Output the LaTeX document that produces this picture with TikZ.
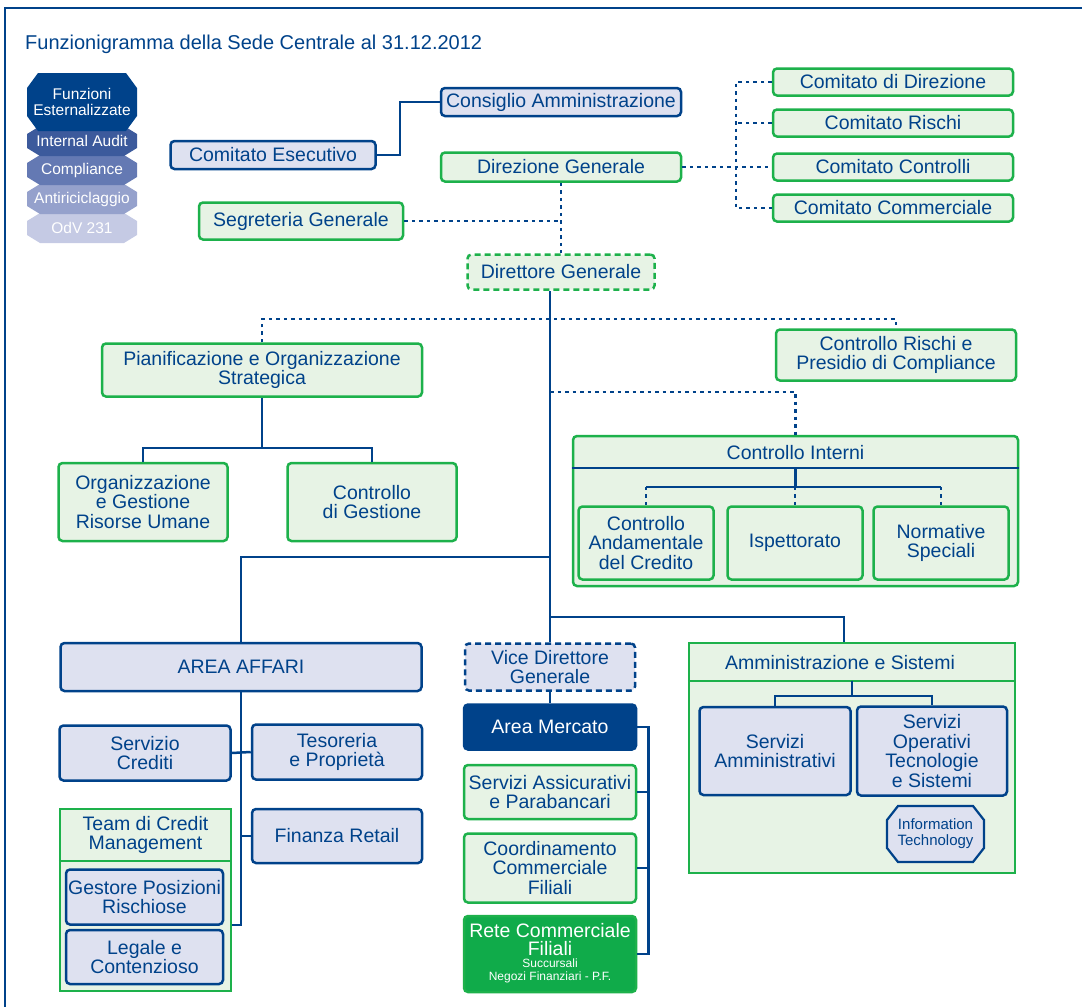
\documentclass[tikz,border=0pt]{standalone}
\usepackage{fontspec}
\setmainfont{Liberation Sans}
\usepackage{xcolor}
\usepackage{tikz}
\definecolor{navy}{HTML}{00428A}
\definecolor{lav}{HTML}{DEE1F0}
\definecolor{grn}{HTML}{1DB14B}
\definecolor{mint}{HTML}{E7F3E5}
\definecolor{rete}{HTML}{10AB4A}
\definecolor{legA}{HTML}{00428A}
\definecolor{legB}{HTML}{3C5A9C}
\definecolor{legC}{HTML}{6479B3}
\definecolor{legD}{HTML}{95A1CC}
\definecolor{legE}{HTML}{C5CAE4}

\begin{document}
\begin{tikzpicture}[x=1pt, y=-1pt,
  txt/.style={text=navy, font=\fontsize{19.5}{19.5}\selectfont, align=center, inner sep=2pt},
  dims/.style 2 args={minimum width=#1, minimum height=#2},
  bluebox/.style={txt, draw=navy, fill=lav, line width=2.5pt, rounded corners=4pt},
  greenbox/.style={txt, draw=grn, fill=mint, line width=2.5pt, rounded corners=4pt},
  panel/.style={draw=grn, fill=mint, line width=2.5pt},
  link/.style={draw=navy, line width=2.5pt},
  dotlink/.style={draw=navy, line width=2.5pt, dash pattern=on 3.5pt off 4pt},
  legtext/.style={text=white, font=\fontsize{15.5}{16}\selectfont, align=center, inner sep=0pt}]
\useasboundingbox (0,0) rectangle (1082,1007);
\draw[navy, line width=2.5pt] (5,1007) -- (5,8) -- (1082,8);

\node[txt, anchor=west, font=\fontsize{20}{20}\selectfont] (title) at (23,44) {Funzionigramma della Sede Centrale al 31.12.2012};

\foreach \lab/\yc/\col [count=\i] in {OdV 231/228/legE,Antiriciclaggio/199/legD,Compliance/170/legC,Internal Audit/141/legB} {
  \fill[\col] (27,\yc-7) -- (40,\yc-15) -- (124,\yc-15) -- (137,\yc-7) -- (137,\yc+7) -- (124,\yc+15) -- (40,\yc+15) -- (27,\yc+7) -- cycle;
  \node[legtext] (leg\i) at (82,\yc) {\lab};
}
\fill[legA] (27,88) -- (38,73) -- (126,73) -- (137,88) -- (137,116) -- (126,131) -- (38,131) -- (27,116) -- cycle;
\node[legtext] (legF) at (82,102) {Funzioni\\Esternalizzate};

\node[bluebox, dims={205}{28}] (ce) at (273,155) {Comitato Esecutivo};
\node[bluebox, dims={240}{28}] (cda) at (561,102) {Consiglio Amministrazione};
\node[greenbox, dims={240}{29}] (dir) at (561,167) {Direzione Generale};
\node[greenbox, dims={204}{37}] (segr) at (301,221) {Segreteria Generale};
\node[greenbox, dims={187}{35}, dash pattern=on 6pt off 4pt] (dg) at (561,272) {Direttore Generale};
\foreach \lab/\yc/\nm in {Comitato di Direzione/82/cdir,Comitato Rischi/123/cris,Comitato Controlli/167/cctr,Comitato Commerciale/208/ccom}
  \node[greenbox, dims={240}{27}] (\nm) at (893,\yc) {\lab};

\draw[link] (ce.east) -- ++(23,0) |- (cda.west);
\draw[dotlink] (dir.east) -- (cctr.west);
\draw[dotlink] (cdir.west) -- ++(-36,0) |- (ccom.west);
\draw[dotlink] (cris.west) -- ++(-36,0);
\draw[dotlink] (dir.south) -- (dg.north);
\draw[dotlink] (segr.east) -- (segr.east -| dir.south);

\node[greenbox, dims={320}{53}] (pian) at (262,370) {Pianificazione e Organizzazione\\Strategica};
\node[greenbox, dims={240}{51}] (crp) at (896,355) {Controllo Rischi e\\Presidio di Compliance};
\node[greenbox, dims={169}{78}] (org) at (143,502) {Organizzazione\\e Gestione\\Risorse Umane};
\node[greenbox, dims={169}{78}] (cdg) at (372,502) {Controllo\\di Gestione};
\draw[link] (pian.south) -- ++(0,50) coordinate (pj);
\draw[link] (org.north) |- (pj) -| (cdg.north);

\node[panel, rounded corners=4pt, dims={445}{150}] (ci) at (795.5,511) {};
\draw[link] ([yshift=-33pt]ci.north west) -- ([yshift=-33pt]ci.north east);
\node[txt] (cit) at (795.5,453) {Controllo Interni};
\node[greenbox, dims={135}{73}] (cand) at (646,543) {Controllo\\Andamentale\\del Credito};
\node[greenbox, dims={135}{73}] (isp) at (795,543) {Ispettorato};
\node[greenbox, dims={135}{73}] (norm) at (941,543) {Normative\\Speciali};
\draw[link] ([yshift=-33pt]ci.north) -- ++(0,19) coordinate (cib);
\draw[link] (cand.north |- cib) -- (norm.north |- cib);
\foreach \n in {cand,isp,norm}
  \draw[dotlink] (\n.north |- cib) -- (\n.north);

\node[bluebox, dims={170}{47}, dash pattern=on 6pt off 4pt] (vdg) at (550,667) {Vice Direttore\\Generale};
\coordinate (j1) at (550,319);
\coordinate (j2) at (550,392);
\coordinate (j3) at (550,557);
\coordinate (j4) at (550,617);
\draw[link] (dg.south -| vdg.north) -- (vdg.north);
\draw[dotlink] (pian.north) |- (j1) -| (crp.north);
\draw[dotlink] (j2) -| (ci.north);

\node[bluebox, dims={361}{48}] (aa) at (241,667) {AREA AFFARI};
\node[bluebox, dims={171}{55}] (sc) at (145,753) {Servizio\\Crediti};
\node[bluebox, dims={170}{55}] (tes) at (337,752) {Tesoreria\\e Proprietà};
\node[bluebox, dims={170}{54}] (fin) at (337,836) {Finanza Retail};
\node[panel, dims={171}{182}] (team) at (145.5,900) {};
\draw[draw=grn, line width=2.5pt] ([yshift=-53pt]team.north west) -- ([yshift=-53pt]team.north east);
\node[txt] (teamt) at (145.5,835) {Team di Credit\\Management};
\node[bluebox, dims={157}{55}] (gpr) at (144.5,897) {Gestore Posizioni\\Rischiose};
\node[bluebox, dims={157}{54}] (leg) at (144.5,957) {Legale e\\Contenzioso};
\draw[link] (j3) -| (aa.north);
\draw[link] (aa.south) |- ([yshift=-25pt]team.east);
\draw[link] (sc.east) -- (tes.west);
\draw[link] (fin.west) -- (fin.west -| aa.south);

\node[bluebox, fill=navy, text=white, dims={172}{45}] (am) at (550,727) {Area Mercato};
\node[greenbox, dims={172}{54}] (sap) at (550,792) {Servizi Assicurativi\\e Parabancari};
\node[greenbox, dims={172}{69}] (ccf) at (550,868) {Coordinamento\\Commerciale\\Filiali};
\node[greenbox, fill=rete, text=white, dims={172}{76}, font=\fontsize{19.5}{18}\selectfont] (rcf) at (550,954) {Rete Commerciale\\Filiali\\[-6pt]{\fontsize{12}{12.5}\selectfont\begin{tabular}[t]{@{}c@{}}Succursali\\Negozi Finanziari - P.F.\end{tabular}}};
\draw[link] (vdg.south) -- (am.north);
\draw[link] (am.east) -- ++(11,0) coordinate (amr) |- (rcf.east);
\foreach \n in {sap,ccf}
  \draw[link] (\n.east) -- (\n.east -| amr);

\node[panel, dims={326}{230}] (as) at (852,758) {};
\draw[draw=grn, line width=2.5pt] ([yshift=-39pt]as.north west) -- ([yshift=-39pt]as.north east);
\node[txt] (ast) at (840,663) {Amministrazione e Sistemi};
\node[bluebox, dims={151}{88}] (sam) at (775,751) {Servizi\\Amministrativi};
\node[bluebox, dims={150}{89}] (sot) at (932,751) {Servizi\\Operativi\\Tecnologie\\e Sistemi};
\draw[link] (j4) -| ([xshift=-8pt]as.north);
\draw[link] ([yshift=-39pt]as.north) -- ++(0,15) coordinate (asb);
\draw[link] (sam.north) |- (asb) -| (sot.north);
\filldraw[draw=navy, fill=lav, line width=2.2pt] (887,820) -- (898,806) -- (973,806) -- (984,820) -- (984,848) -- (973,862) -- (898,862) -- (887,848) -- cycle;
\node[txt, font=\fontsize{15}{16}\selectfont, inner sep=0pt] (it) at (935.5,834) {Information\\Technology};
\end{tikzpicture}
\end{document}
